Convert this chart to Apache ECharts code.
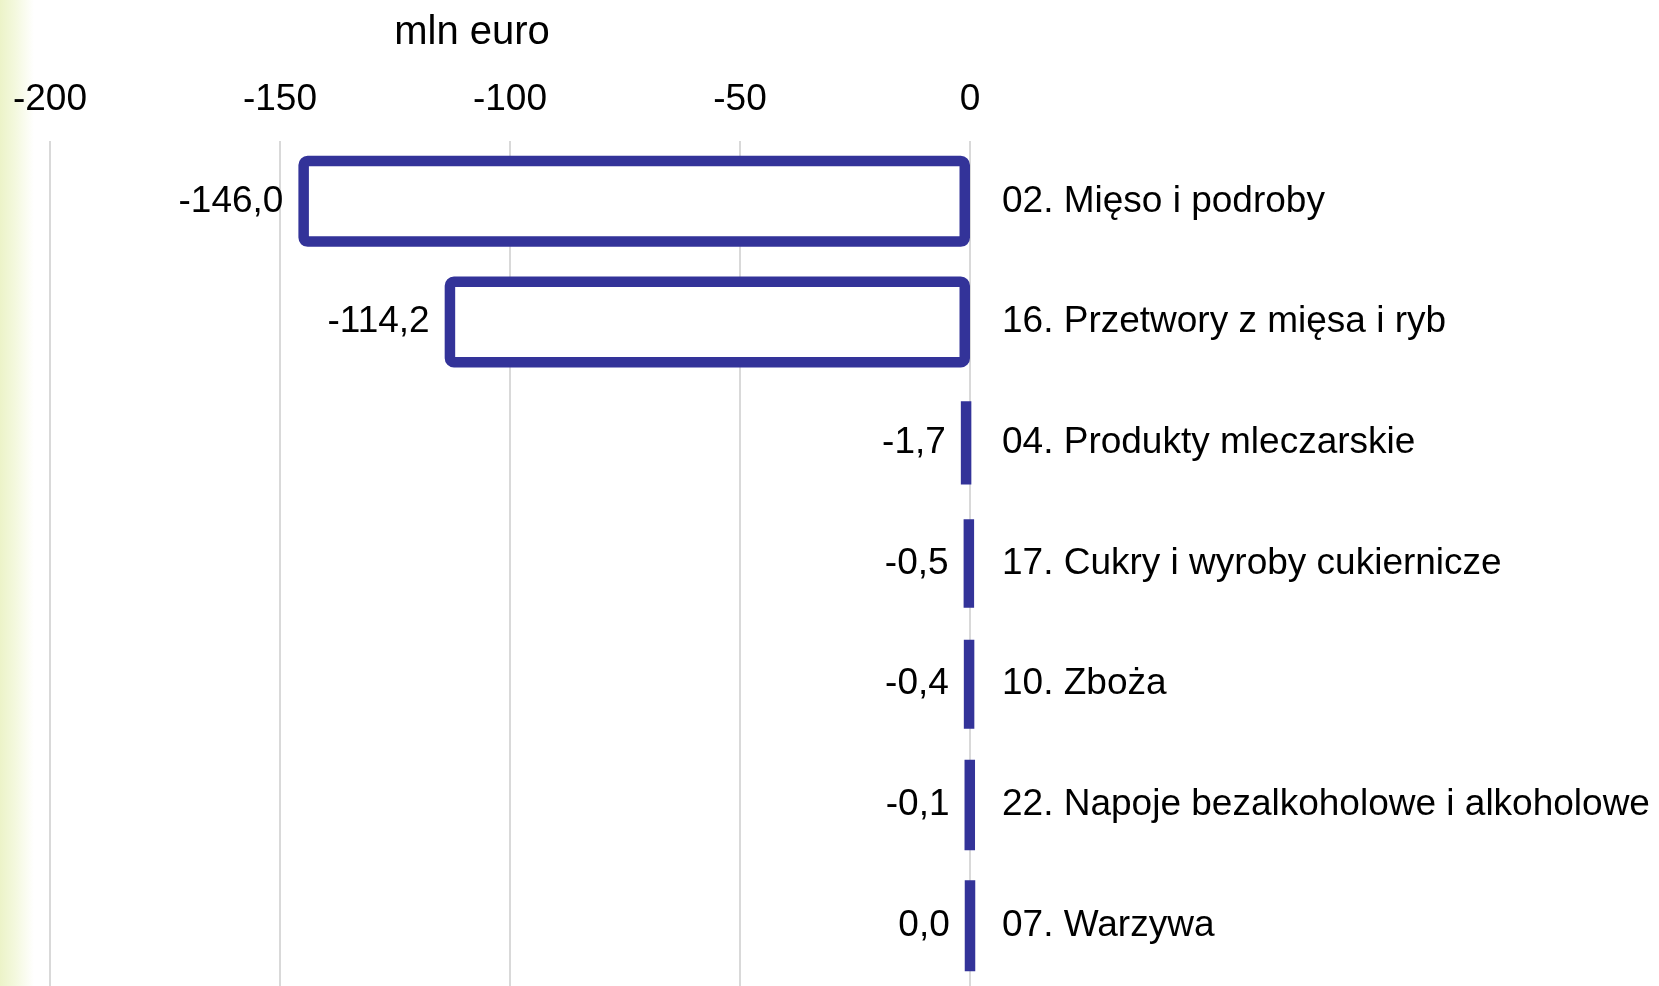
<!DOCTYPE html>
<html>
<head>
<meta charset="utf-8">
<script src="https://cdn.jsdelivr.net/npm/echarts@6/dist/echarts.min.js"></script>
<style>
  html, body { margin: 0; padding: 0; }
  body { background: linear-gradient(to right, #ecf3c8 0, #f3f8dc 14px, #ffffff 34px); }
  #chart { width: 1659px; height: 986px; }
</style>
</head>
<body>
<div id="chart"></div>
<script>
const categories = [
  '02. Mięso i podroby',
  '16. Przetwory z mięsa i ryb',
  '04. Produkty mleczarskie',
  '17. Cukry i wyroby cukiernicze',
  '10. Zboża',
  '22. Napoje bezalkoholowe i alkoholowe',
  '07. Warzywa'
];
const values = [-146.0, -114.2, -1.7, -0.5, -0.4, -0.1, 0.0];
const axisMin = -200;
const axisMax = 0;
const axisStep = 50;
const unitLabel = 'mln euro';

const font = '"Liberation Sans", Arial, sans-serif';
const chart = echarts.init(document.getElementById('chart'));

chart.setOption({
  animation: false,
  textStyle: { fontFamily: font },
  graphic: [{
    type: 'text',
    x: 472,
    y: 33,
    style: {
      text: unitLabel,
      fontSize: 40,
      fontFamily: font,
      fill: '#000',
      align: 'center',
      verticalAlign: 'middle'
    }
  }],
  grid: { left: 50, right: 689, top: 141, height: 852 },
  xAxis: {
    type: 'value',
    position: 'top',
    min: axisMin,
    max: axisMax,
    interval: axisStep,
    axisLine: { show: false },
    axisTick: { show: false },
    axisLabel: { fontSize: 37, color: '#000', margin: 23 },
    splitLine: { lineStyle: { color: '#d9d9d9', width: 2 } }
  },
  yAxis: {
    type: 'category',
    data: categories,
    inverse: true,
    position: 'right',
    axisLine: { show: false },
    axisTick: { show: false },
    axisLabel: { fontSize: 37, color: '#000', margin: 32, align: 'left', padding: [4, 0, 0, 0] }
  },
  series: [{
    type: 'bar',
    data: values,
    barWidth: 91,
    itemStyle: {
      color: '#ffffff',
      borderColor: '#333399',
      borderWidth: 10.5,
      borderRadius: 4
    },
    label: {
      show: true,
      position: 'left',
      distance: 15,
      fontSize: 37,
      color: '#000',
      padding: [4, 0, 0, 0],
      formatter: p => p.value.toFixed(1).replace('.', ',')
    }
  }]
});
</script>
</body>
</html>
